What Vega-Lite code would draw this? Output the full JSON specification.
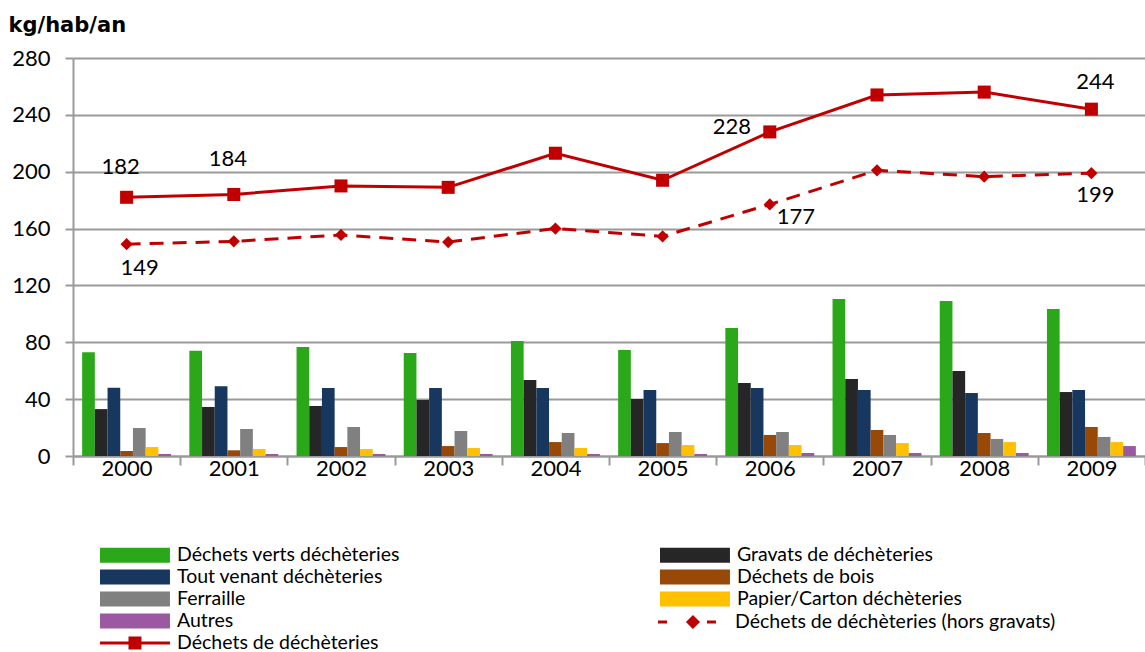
{
  "$schema": "https://vega.github.io/schema/vega-lite/v6.json",
  "width": 1072,
  "height": 398,
  "autosize": {"type": "none"},
  "padding": {"left": 73, "top": 58, "right": 0, "bottom": 196},
  "background": "white",
  "config": {
    "font": "Lato",
    "view": {"stroke": null},
    "axis": {"labelColor": "#000000", "labelFont": "Lato"},
    "legend": {"labelFont": "Lato", "labelColor": "#000000", "padding": 0},
    "text": {"fontSize": 22, "color": "#000000"}
  },
  "resolve": {"scale": {"strokeDash": "independent"}, "legend": {"strokeDash": "independent"}},
  "datasets": {
    "bars": [
      {"annee": "2000", "categorie": "Déchets verts déchèteries", "valeur": 73},
      {"annee": "2000", "categorie": "Gravats de déchèteries", "valeur": 33},
      {"annee": "2000", "categorie": "Tout venant déchèteries", "valeur": 48},
      {"annee": "2000", "categorie": "Déchets de bois", "valeur": 3.5},
      {"annee": "2000", "categorie": "Ferraille", "valeur": 19.7},
      {"annee": "2000", "categorie": "Papier/Carton déchèteries", "valeur": 6.3},
      {"annee": "2000", "categorie": "Autres", "valeur": 1.4},
      {"annee": "2001", "categorie": "Déchets verts déchèteries", "valeur": 74},
      {"annee": "2001", "categorie": "Gravats de déchèteries", "valeur": 34.5},
      {"annee": "2001", "categorie": "Tout venant déchèteries", "valeur": 49},
      {"annee": "2001", "categorie": "Déchets de bois", "valeur": 4},
      {"annee": "2001", "categorie": "Ferraille", "valeur": 19},
      {"annee": "2001", "categorie": "Papier/Carton déchèteries", "valeur": 4.9},
      {"annee": "2001", "categorie": "Autres", "valeur": 1.4},
      {"annee": "2002", "categorie": "Déchets verts déchèteries", "valeur": 76.7},
      {"annee": "2002", "categorie": "Gravats de déchèteries", "valeur": 35.2},
      {"annee": "2002", "categorie": "Tout venant déchèteries", "valeur": 47.8},
      {"annee": "2002", "categorie": "Déchets de bois", "valeur": 6.3},
      {"annee": "2002", "categorie": "Ferraille", "valeur": 20.4},
      {"annee": "2002", "categorie": "Papier/Carton déchèteries", "valeur": 4.9},
      {"annee": "2002", "categorie": "Autres", "valeur": 1.4},
      {"annee": "2003", "categorie": "Déchets verts déchèteries", "valeur": 72.5},
      {"annee": "2003", "categorie": "Gravats de déchèteries", "valeur": 39.4},
      {"annee": "2003", "categorie": "Tout venant déchèteries", "valeur": 47.8},
      {"annee": "2003", "categorie": "Déchets de bois", "valeur": 7},
      {"annee": "2003", "categorie": "Ferraille", "valeur": 17.6},
      {"annee": "2003", "categorie": "Papier/Carton déchèteries", "valeur": 5.6},
      {"annee": "2003", "categorie": "Autres", "valeur": 1.4},
      {"annee": "2004", "categorie": "Déchets verts déchèteries", "valeur": 80.9},
      {"annee": "2004", "categorie": "Gravats de déchèteries", "valeur": 53.4},
      {"annee": "2004", "categorie": "Tout venant déchèteries", "valeur": 47.8},
      {"annee": "2004", "categorie": "Déchets de bois", "valeur": 9.8},
      {"annee": "2004", "categorie": "Ferraille", "valeur": 16.2},
      {"annee": "2004", "categorie": "Papier/Carton déchèteries", "valeur": 5.6},
      {"annee": "2004", "categorie": "Autres", "valeur": 1.4},
      {"annee": "2005", "categorie": "Déchets verts déchèteries", "valeur": 74.6},
      {"annee": "2005", "categorie": "Gravats de déchèteries", "valeur": 40.1},
      {"annee": "2005", "categorie": "Tout venant déchèteries", "valeur": 46.4},
      {"annee": "2005", "categorie": "Déchets de bois", "valeur": 9.1},
      {"annee": "2005", "categorie": "Ferraille", "valeur": 16.9},
      {"annee": "2005", "categorie": "Papier/Carton déchèteries", "valeur": 7.7},
      {"annee": "2005", "categorie": "Autres", "valeur": 1.4},
      {"annee": "2006", "categorie": "Déchets verts déchèteries", "valeur": 90},
      {"annee": "2006", "categorie": "Gravats de déchèteries", "valeur": 51.3},
      {"annee": "2006", "categorie": "Tout venant déchèteries", "valeur": 47.8},
      {"annee": "2006", "categorie": "Déchets de bois", "valeur": 14.8},
      {"annee": "2006", "categorie": "Ferraille", "valeur": 16.9},
      {"annee": "2006", "categorie": "Papier/Carton déchèteries", "valeur": 7.7},
      {"annee": "2006", "categorie": "Autres", "valeur": 2.1},
      {"annee": "2007", "categorie": "Déchets verts déchèteries", "valeur": 110.5},
      {"annee": "2007", "categorie": "Gravats de déchèteries", "valeur": 54.2},
      {"annee": "2007", "categorie": "Tout venant déchèteries", "valeur": 46.4},
      {"annee": "2007", "categorie": "Déchets de bois", "valeur": 18.3},
      {"annee": "2007", "categorie": "Ferraille", "valeur": 14.8},
      {"annee": "2007", "categorie": "Papier/Carton déchèteries", "valeur": 9.1},
      {"annee": "2007", "categorie": "Autres", "valeur": 2.1},
      {"annee": "2008", "categorie": "Déchets verts déchèteries", "valeur": 109},
      {"annee": "2008", "categorie": "Gravats de déchèteries", "valeur": 59.8},
      {"annee": "2008", "categorie": "Tout venant déchèteries", "valeur": 44.3},
      {"annee": "2008", "categorie": "Déchets de bois", "valeur": 16.2},
      {"annee": "2008", "categorie": "Ferraille", "valeur": 12},
      {"annee": "2008", "categorie": "Papier/Carton déchèteries", "valeur": 9.8},
      {"annee": "2008", "categorie": "Autres", "valeur": 2.1},
      {"annee": "2009", "categorie": "Déchets verts déchèteries", "valeur": 103.4},
      {"annee": "2009", "categorie": "Gravats de déchèteries", "valeur": 45},
      {"annee": "2009", "categorie": "Tout venant déchèteries", "valeur": 46.4},
      {"annee": "2009", "categorie": "Déchets de bois", "valeur": 20.4},
      {"annee": "2009", "categorie": "Ferraille", "valeur": 13.4},
      {"annee": "2009", "categorie": "Papier/Carton déchèteries", "valeur": 9.8},
      {"annee": "2009", "categorie": "Autres", "valeur": 7}
    ],
    "lines": [
      {"annee": "2000", "serie": "Déchets de déchèteries", "valeur": 182},
      {"annee": "2001", "serie": "Déchets de déchèteries", "valeur": 184},
      {"annee": "2002", "serie": "Déchets de déchèteries", "valeur": 190},
      {"annee": "2003", "serie": "Déchets de déchèteries", "valeur": 189},
      {"annee": "2004", "serie": "Déchets de déchèteries", "valeur": 213},
      {"annee": "2005", "serie": "Déchets de déchèteries", "valeur": 194},
      {"annee": "2006", "serie": "Déchets de déchèteries", "valeur": 228},
      {"annee": "2007", "serie": "Déchets de déchèteries", "valeur": 254},
      {"annee": "2008", "serie": "Déchets de déchèteries", "valeur": 256},
      {"annee": "2009", "serie": "Déchets de déchèteries", "valeur": 244},
      {"annee": "2000", "serie": "Déchets de déchèteries (hors gravats)", "valeur": 149},
      {"annee": "2001", "serie": "Déchets de déchèteries (hors gravats)", "valeur": 151},
      {"annee": "2002", "serie": "Déchets de déchèteries (hors gravats)", "valeur": 155.5},
      {"annee": "2003", "serie": "Déchets de déchèteries (hors gravats)", "valeur": 150.5},
      {"annee": "2004", "serie": "Déchets de déchèteries (hors gravats)", "valeur": 160},
      {"annee": "2005", "serie": "Déchets de déchèteries (hors gravats)", "valeur": 154.5},
      {"annee": "2006", "serie": "Déchets de déchèteries (hors gravats)", "valeur": 177},
      {"annee": "2007", "serie": "Déchets de déchèteries (hors gravats)", "valeur": 201},
      {"annee": "2008", "serie": "Déchets de déchèteries (hors gravats)", "valeur": 196.5},
      {"annee": "2009", "serie": "Déchets de déchèteries (hors gravats)", "valeur": 199}
    ]
  },
  "layer": [
    {
      "data": {"name": "bars"},
      "mark": {"type": "bar"},
      "encoding": {
        "x": {
          "field": "annee", "type": "nominal", "title": null,
          "scale": {"paddingInner": 0, "paddingOuter": 0},
          "axis": {
            "labelAngle": 0, "tickBand": "extent", "grid": false,
            "domainColor": "#9a9a9a", "domainWidth": 2,
            "tickColor": "#9a9a9a", "tickWidth": 2, "tickSize": 9,
            "labelFontSize": 22, "labelPadding": -7
          }
        },
        "xOffset": {
          "field": "categorie", "type": "nominal",
          "sort": ["Déchets verts déchèteries", "Gravats de déchèteries", "Tout venant déchèteries", "Déchets de bois", "Ferraille", "Papier/Carton déchèteries", "Autres"],
          "scale": {"paddingInner": 0, "paddingOuter": 0.72}
        },
        "y": {
          "field": "valeur", "type": "quantitative",
          "scale": {"domain": [0, 280]},
          "axis": {
            "values": [0, 40, 80, 120, 160, 200, 240, 280],
            "grid": true, "gridColor": "#9a9a9a", "gridWidth": 2,
            "domainColor": "#9a9a9a", "domainWidth": 2,
            "tickColor": "#9a9a9a", "tickWidth": 2, "tickSize": 8,
            "labelFontSize": 22, "labelPadding": 15,
            "title": "kg/hab/an", "titleAngle": 0, "titleX": -65, "titleY": -27,
            "titleAlign": "left", "titleBaseline": "alphabetic", "titleFont": "DejaVu Sans",
            "titleFontSize": 21, "titleFontWeight": "bold", "titleColor": "#000000"
          }
        },
        "color": {
          "field": "categorie", "type": "nominal",
          "scale": {
            "domain": ["Déchets verts déchèteries", "Tout venant déchèteries", "Ferraille", "Autres", "Gravats de déchèteries", "Déchets de bois", "Papier/Carton déchèteries"],
            "range": ["#2ba81a", "#17375e", "#808080", "#9a59a0", "#262626", "#984807", "#ffc000"]
          },
          "legend": {
            "title": null, "orient": "none", "legendX": 27, "legendY": 486,
            "columns": 2, "columnPadding": 260, "rowPadding": 1,
            "symbolType": "M-1,-0.68H5.36V0.68H-1Z", "symbolSize": 484,
            "symbolStrokeWidth": 0, "labelOffset": 55, "labelFontSize": 19.5, "labelLimit": 400
          }
        }
      }
    },
    {
      "data": {"name": "lines"},
      "transform": [{"filter": "datum.serie === 'Déchets de déchèteries'"}],
      "mark": {"type": "line", "color": "#c00000", "strokeWidth": 3},
      "encoding": {
        "x": {"field": "annee", "type": "nominal"},
        "y": {"field": "valeur", "type": "quantitative"}
      }
    },
    {
      "data": {"name": "lines"},
      "transform": [{"filter": "datum.serie === 'Déchets de déchèteries (hors gravats)'"}],
      "mark": {"type": "line", "color": "#c00000", "strokeWidth": 3, "strokeDash": [14, 9]},
      "encoding": {
        "x": {"field": "annee", "type": "nominal"},
        "y": {"field": "valeur", "type": "quantitative"}
      }
    },
    {
      "data": {"name": "lines"},
      "transform": [{"filter": "datum.serie === 'Déchets de déchèteries'"}],
      "mark": {"type": "point", "filled": true, "shape": "square", "color": "#c00000", "size": 170, "opacity": 1},
      "encoding": {
        "x": {"field": "annee", "type": "nominal"},
        "y": {"field": "valeur", "type": "quantitative"},
        "strokeDash": {
          "field": "serie", "type": "nominal",
          "scale": {"domain": ["Déchets de déchèteries"], "range": [[1, 0]]},
          "legend": {
            "title": null, "orient": "none", "legendX": 27, "legendY": 574,
            "symbolSize": 484, "labelOffset": 55, "labelFontSize": 19.5, "labelLimit": 400,
            "symbolType": "M-1,-0.136H5.36V0.136H-1Z M1.59,-0.59H2.77V0.59H1.59Z",
            "symbolFillColor": "#c00000", "symbolStrokeWidth": 0, "symbolOpacity": 1
          }
        }
      }
    },
    {
      "data": {"name": "lines"},
      "transform": [{"filter": "datum.serie === 'Déchets de déchèteries (hors gravats)'"}],
      "mark": {"type": "point", "filled": true, "shape": "diamond", "color": "#c00000", "size": 150, "opacity": 1},
      "encoding": {
        "x": {"field": "annee", "type": "nominal"},
        "y": {"field": "valeur", "type": "quantitative"},
        "strokeDash": {
          "field": "serie", "type": "nominal",
          "scale": {"domain": ["Déchets de déchèteries (hors gravats)"], "range": [[1, 0]]},
          "legend": {
            "title": null, "orient": "none", "legendX": 585, "legendY": 553,
            "symbolSize": 484, "labelOffset": 55, "labelFontSize": 19.5, "labelLimit": 400,
            "symbolType": "M-1,-0.136H-0.18V0.136H-1Z M2.18,-0.64L2.82,0L2.18,0.64L1.54,0Z M3.45,-0.136H4.27V0.136H3.45Z",
            "symbolFillColor": "#c00000", "symbolStrokeWidth": 0, "symbolOpacity": 1
          }
        }
      }
    },
    {
      "data": {"name": "lines"},
      "transform": [{"filter": "datum.serie === 'Déchets de déchèteries' && datum.annee === '2000'"}],
      "mark": {"type": "text", "dy": -30, "dx": -6},
      "encoding": {
        "x": {"field": "annee", "type": "nominal"},
        "y": {"field": "valeur", "type": "quantitative"},
        "text": {"field": "valeur", "type": "quantitative"}
      }
    },
    {
      "data": {"name": "lines"},
      "transform": [{"filter": "datum.serie === 'Déchets de déchèteries' && datum.annee === '2001'"}],
      "mark": {"type": "text", "dy": -35, "dx": -6},
      "encoding": {
        "x": {"field": "annee", "type": "nominal"},
        "y": {"field": "valeur", "type": "quantitative"},
        "text": {"field": "valeur", "type": "quantitative"}
      }
    },
    {
      "data": {"name": "lines"},
      "transform": [{"filter": "datum.serie === 'Déchets de déchèteries' && datum.annee === '2009'"}],
      "mark": {"type": "text", "dy": -27, "dx": 4},
      "encoding": {
        "x": {"field": "annee", "type": "nominal"},
        "y": {"field": "valeur", "type": "quantitative"},
        "text": {"field": "valeur", "type": "quantitative"}
      }
    },
    {
      "data": {"name": "lines"},
      "transform": [{"filter": "datum.serie === 'Déchets de déchèteries' && datum.annee === '2006'"}],
      "mark": {"type": "text", "dy": -5, "dx": -38},
      "encoding": {
        "x": {"field": "annee", "type": "nominal"},
        "y": {"field": "valeur", "type": "quantitative"},
        "text": {"field": "valeur", "type": "quantitative"}
      }
    },
    {
      "data": {"name": "lines"},
      "transform": [{"filter": "datum.serie === 'Déchets de déchèteries (hors gravats)' && datum.annee === '2000'"}],
      "mark": {"type": "text", "dy": 24, "dx": 13},
      "encoding": {
        "x": {"field": "annee", "type": "nominal"},
        "y": {"field": "valeur", "type": "quantitative"},
        "text": {"field": "valeur", "type": "quantitative"}
      }
    },
    {
      "data": {"name": "lines"},
      "transform": [{"filter": "datum.serie === 'Déchets de déchèteries (hors gravats)' && datum.annee === '2009'"}],
      "mark": {"type": "text", "dy": 22, "dx": 4},
      "encoding": {
        "x": {"field": "annee", "type": "nominal"},
        "y": {"field": "valeur", "type": "quantitative"},
        "text": {"field": "valeur", "type": "quantitative"}
      }
    },
    {
      "data": {"name": "lines"},
      "transform": [{"filter": "datum.serie === 'Déchets de déchèteries (hors gravats)' && datum.annee === '2006'"}],
      "mark": {"type": "text", "dy": 13, "dx": 26},
      "encoding": {
        "x": {"field": "annee", "type": "nominal"},
        "y": {"field": "valeur", "type": "quantitative"},
        "text": {"field": "valeur", "type": "quantitative"}
      }
    }
  ]
}
